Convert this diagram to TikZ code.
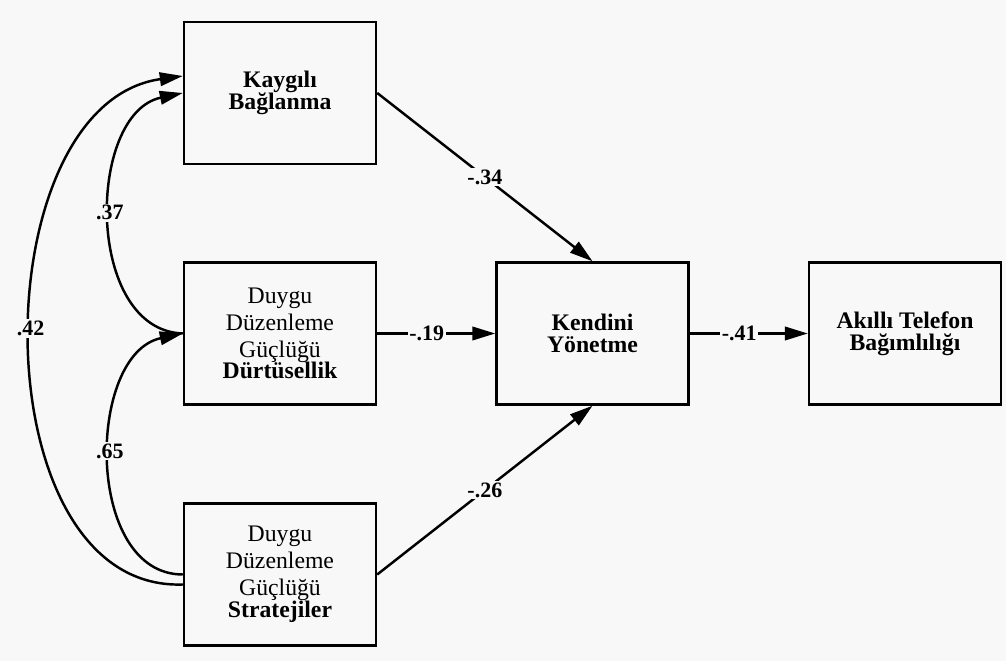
\documentclass[tikz,border=0pt]{standalone}
\usepackage{fontspec}
\setmainfont{Liberation Serif}
\usetikzlibrary{arrows.meta}
\definecolor{bggray}{RGB}{248,248,248}
\tikzset{
  box/.style={draw, line width=1.4pt, minimum width=3.84cm, minimum height=2.84cm,
    align=center, font=\fontsize{13.5}{15.3}\selectfont},
  title/.style={font=\fontsize{13.5}{12.5}\selectfont\bfseries},
  coef/.style={fill=bggray, inner sep=1pt, font=\fontsize{12.5}{14}\selectfont\bfseries},
  arr/.style={-{Triangle[length=0.46cm, width=0.27cm]}, line width=1.4pt}
}
\begin{document}
\begin{tikzpicture}
        \fill[bggray] (0, 0) rectangle (20.12, 13.22);
        \useasboundingbox (0, 0) rectangle (20.12, 13.22);

        \node[box, title] (1) at (5.6, 11.36)  {Kaygılı\\Bağlanma};
        \node[box] (2) at (5.6, 6.55)          {Duygu\\Düzenleme\\Güçlüğü\\[-2.8pt]\textbf{Dürtüsellik}};
        \node[box] (3) at (5.6, 1.73)          {Duygu\\Düzenleme\\Güçlüğü\\[-2.8pt]\textbf{Stratejiler}};
        \node[box, title] (4) at (11.85, 6.55) {Kendini\\Yönetme};
        \node[box, title] (5) at (18.1, 6.55)  {Akıllı Telefon\\Bağımlılığı};

        \draw[arr] (1.east) -- node[coef] {-.34} (4.north);
        \draw[arr] (2.east) -- node[coef, pos = 0.42] {-.19} (4.west);
        \draw[arr] (3.east) -- node[coef] {-.26} (4.south);
        \draw[arr] (4.east) -- node[coef, pos = 0.42] {-.41} (5.west);

        \draw[arr] (2.west) to[out = 178, in = 192, looseness = 1.05] node[coef, pos = 0.52] {.37} (1.west);
        \draw[arr] (3.west) to[out = 180, in = 192, looseness = 1.05] node[coef, pos = 0.53] {.65} (2.west);
        \draw[arr] ([yshift = -0.2cm]3.west) to[out = 182, in = 188, looseness = 1.03] node[coef, pos = 0.52] {.42} ([yshift = 0.34cm]1.west);
      \end{tikzpicture}
\end{document}
